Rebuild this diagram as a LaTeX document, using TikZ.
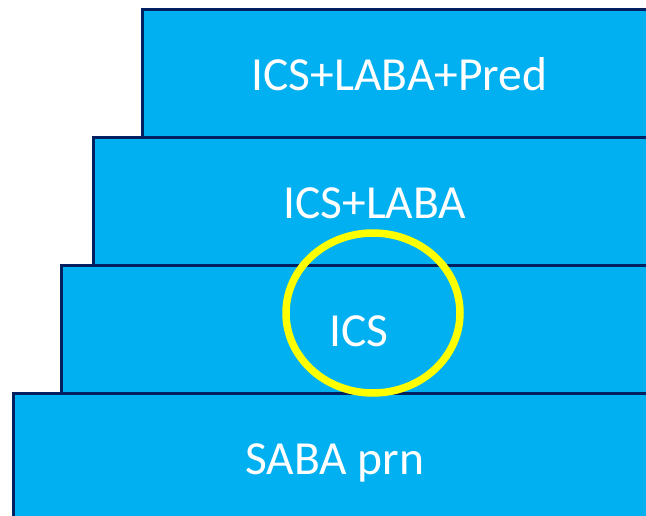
\documentclass[tikz,border=0pt]{standalone}
\usepackage{fontspec}
\setmainfont{Carlito}
\definecolor{stepfill}{HTML}{00B0F0}
\definecolor{stepline}{HTML}{002060}
\definecolor{ringcol}{HTML}{FFFF00}
\begin{document}
\begin{tikzpicture}[x=1pt,y=-1pt,
  stepbox/.style={draw=stepline,line width=2.6pt,fill=stepfill,rectangle,anchor=north west,
    minimum height=128pt,text=white,font=\fontsize{47.5}{50}\selectfont,inner sep=0pt,
    text depth=0pt,text height=35pt}]
\useasboundingbox (0,0) rectangle (646,516);
\clip (0,0) rectangle (646,516);
\node[stepbox,minimum width=514pt] (s4) at (141,8) {ICS+LABA+Pred};
\node[stepbox,minimum width=563pt] (s3) at (92,136) {ICS+LABA};
\node[stepbox,minimum width=595pt] (s2) at (60,264) {ICS};
\node[stepbox,minimum width=643pt] (s1) at (12,392) {SABA prn};
\draw[ringcol,line width=7.5pt] (373,313) ellipse [x radius=87, y radius=80];
\end{tikzpicture}
\end{document}
